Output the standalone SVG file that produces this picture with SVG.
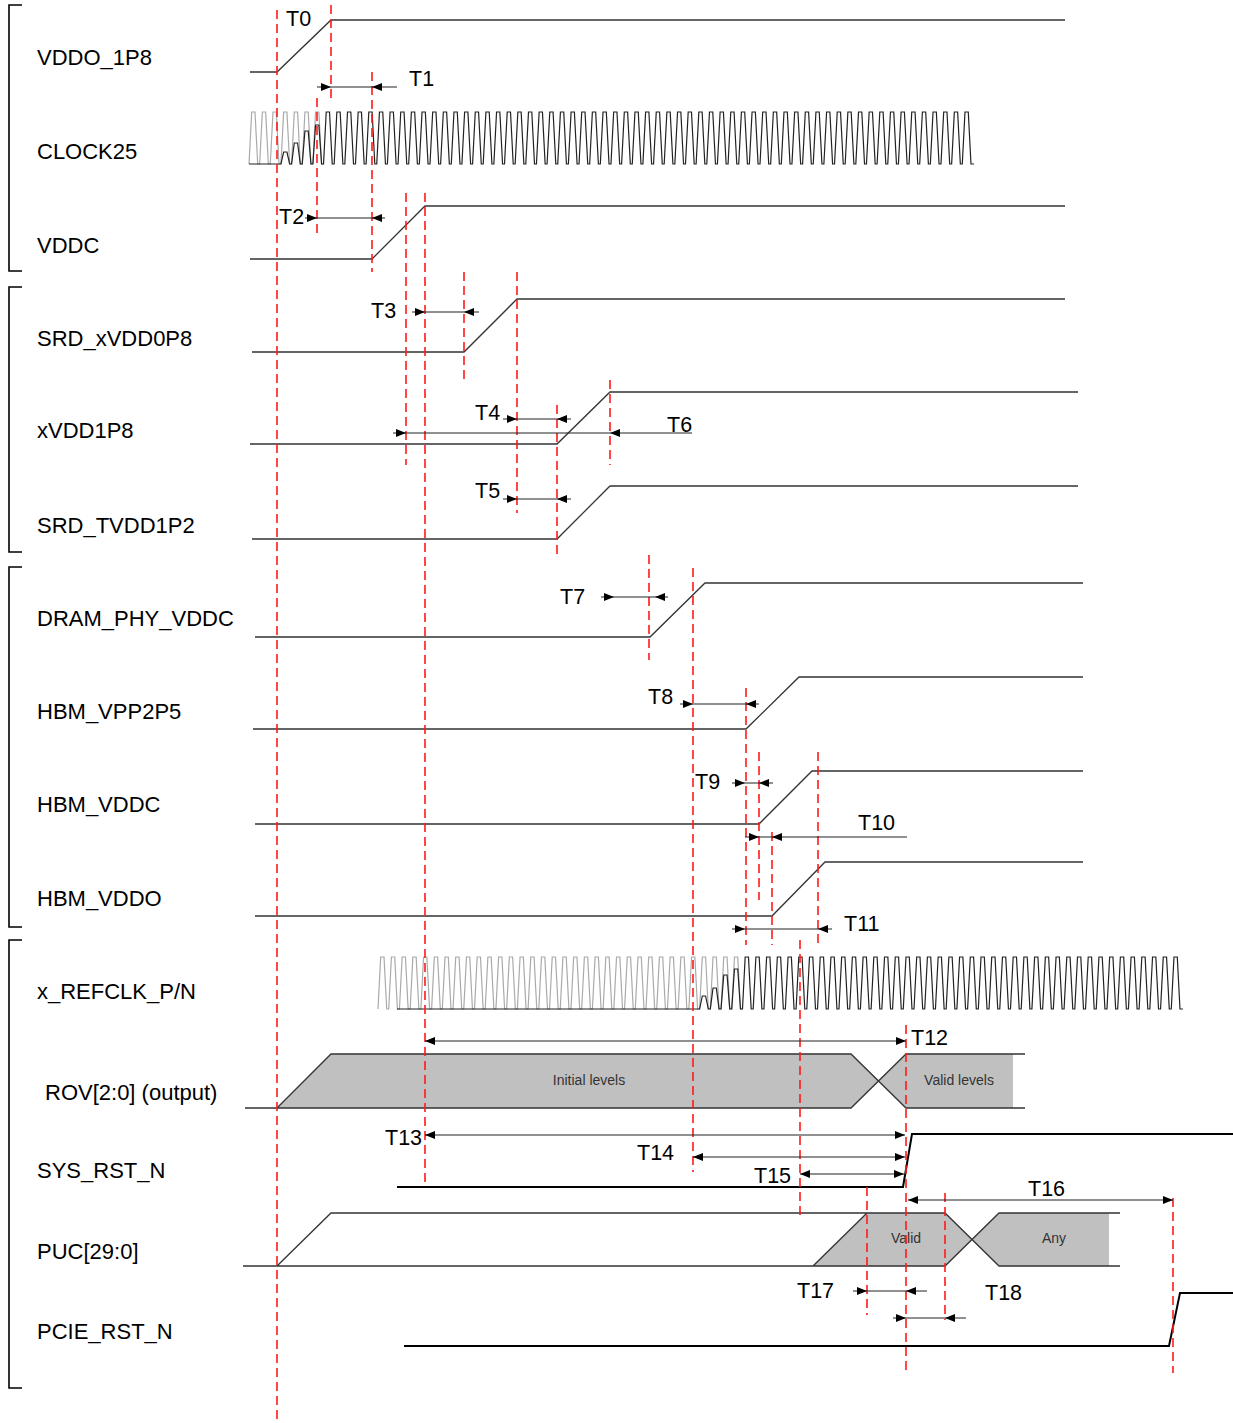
<svg xmlns="http://www.w3.org/2000/svg" xmlns:xlink="http://www.w3.org/1999/xlink" width="1233" height="1423" viewBox="0 0 1233 1423">
<style>
.lbl{font-family:"Liberation Sans",Arial,sans-serif;font-size:22px;fill:#000}
.tl{font-family:"Liberation Sans",Arial,sans-serif;font-size:21.5px;fill:#000}
.st{font-family:"Liberation Sans",Arial,sans-serif;font-size:14px;fill:#333;text-anchor:middle}
.sig{fill:none;stroke:#333;stroke-width:1.3}
.thick{fill:none;stroke:#000;stroke-width:2}
.clk{fill:none;stroke:#222;stroke-width:1.2}
.ghost{fill:none;stroke:#aaa;stroke-width:1.2}
.br{fill:none;stroke:#000;stroke-width:1.6}
.dash{stroke:#ff1a1a;stroke-width:1.6;stroke-dasharray:9 5;fill:none}
.al{stroke:#222;stroke-width:1.1;fill:none}
.bus{fill:#c0c0c0;stroke:none}
</style>
<defs>
<path id="hr" d="M0,0 L-10,-4 L-10,4 Z" fill="#000"/>
<path id="hl" d="M0,0 L10,-4 L10,4 Z" fill="#000"/>
</defs>
<rect width="1233" height="1423" fill="#fff"/>

<g id="brackets">
<path class="br" d="M22,5 H9 V271 H22"/>
<path class="br" d="M22,287 H9 V552 H22"/>
<path class="br" d="M22,567 H9 V927 H22"/>
<path class="br" d="M22,940 H9 V1388 H22"/>
</g>

<g id="labels">
<text class="lbl" x="37" y="65">VDDO_1P8</text>
<text class="lbl" x="37" y="159">CLOCK25</text>
<text class="lbl" x="37" y="253">VDDC</text>
<text class="lbl" x="37" y="346">SRD_xVDD0P8</text>
<text class="lbl" x="37" y="438">xVDD1P8</text>
<text class="lbl" x="37" y="533">SRD_TVDD1P2</text>
<text class="lbl" x="37" y="626">DRAM_PHY_VDDC</text>
<text class="lbl" x="37" y="719">HBM_VPP2P5</text>
<text class="lbl" x="37" y="812">HBM_VDDC</text>
<text class="lbl" x="37" y="906">HBM_VDDO</text>
<text class="lbl" x="37" y="999">x_REFCLK_P/N</text>
<text class="lbl" x="45" y="1100">ROV[2:0] (output)</text>
<text class="lbl" x="37" y="1178">SYS_RST_N</text>
<text class="lbl" x="37" y="1259">PUC[29:0]</text>
<text class="lbl" x="37" y="1339">PCIE_RST_N</text>
</g>

<g id="sig-vddo1p8"><path class="sig" d="M250,72 H277 L331,20 H1065"/></g>
<g id="sig-clock25">
<path class="ghost" d="M249,164 l2.7,-52 h3.3 l2.7,52 h1.946 l2.7,-52 h3.3 l2.7,52 h1.946 l2.7,-52 h3.3 l2.7,52 h1.946 l2.7,-52 h3.3 l2.7,52 h1.946 l2.7,-52 h3.3 l2.7,52 h1.946 l2.7,-52 h3.3 l2.7,52 h1.946 l2.7,-52 h3.3 l2.7,52 h1.946"/>
<path class="clk" d="M249,164 H280.94 l2.7,-12 h3.3 l2.7,12 h1.946 l2.7,-21 h3.3 l2.7,21 h1.946 l2.7,-33 h3.3 l2.7,33 h1.946 l2.7,-39 h3.3 l2.7,39 h1.946
l2.7,-52 h3.3 l2.7,52 h1.946 l2.7,-52 h3.3 l2.7,52 h1.946 l2.7,-52 h3.3 l2.7,52 h1.946 l2.7,-52 h3.3 l2.7,52 h1.946 l2.7,-52 h3.3 l2.7,52 h1.946
l2.7,-52 h3.3 l2.7,52 h1.946 l2.7,-52 h3.3 l2.7,52 h1.946 l2.7,-52 h3.3 l2.7,52 h1.946 l2.7,-52 h3.3 l2.7,52 h1.946 l2.7,-52 h3.3 l2.7,52 h1.946
l2.7,-52 h3.3 l2.7,52 h1.946 l2.7,-52 h3.3 l2.7,52 h1.946 l2.7,-52 h3.3 l2.7,52 h1.946 l2.7,-52 h3.3 l2.7,52 h1.946 l2.7,-52 h3.3 l2.7,52 h1.946
l2.7,-52 h3.3 l2.7,52 h1.946 l2.7,-52 h3.3 l2.7,52 h1.946 l2.7,-52 h3.3 l2.7,52 h1.946 l2.7,-52 h3.3 l2.7,52 h1.946 l2.7,-52 h3.3 l2.7,52 h1.946
l2.7,-52 h3.3 l2.7,52 h1.946 l2.7,-52 h3.3 l2.7,52 h1.946 l2.7,-52 h3.3 l2.7,52 h1.946 l2.7,-52 h3.3 l2.7,52 h1.946 l2.7,-52 h3.3 l2.7,52 h1.946
l2.7,-52 h3.3 l2.7,52 h1.946 l2.7,-52 h3.3 l2.7,52 h1.946 l2.7,-52 h3.3 l2.7,52 h1.946 l2.7,-52 h3.3 l2.7,52 h1.946 l2.7,-52 h3.3 l2.7,52 h1.946
l2.7,-52 h3.3 l2.7,52 h1.946 l2.7,-52 h3.3 l2.7,52 h1.946 l2.7,-52 h3.3 l2.7,52 h1.946 l2.7,-52 h3.3 l2.7,52 h1.946 l2.7,-52 h3.3 l2.7,52 h1.946
l2.7,-52 h3.3 l2.7,52 h1.946 l2.7,-52 h3.3 l2.7,52 h1.946 l2.7,-52 h3.3 l2.7,52 h1.946 l2.7,-52 h3.3 l2.7,52 h1.946 l2.7,-52 h3.3 l2.7,52 h1.946
l2.7,-52 h3.3 l2.7,52 h1.946 l2.7,-52 h3.3 l2.7,52 h1.946 l2.7,-52 h3.3 l2.7,52 h1.946 l2.7,-52 h3.3 l2.7,52 h1.946 l2.7,-52 h3.3 l2.7,52 h1.946
l2.7,-52 h3.3 l2.7,52 h1.946 l2.7,-52 h3.3 l2.7,52 h1.946 l2.7,-52 h3.3 l2.7,52 h1.946 l2.7,-52 h3.3 l2.7,52 h1.946 l2.7,-52 h3.3 l2.7,52 h1.946
l2.7,-52 h3.3 l2.7,52 h1.946 l2.7,-52 h3.3 l2.7,52 h1.946 l2.7,-52 h3.3 l2.7,52 h1.946 l2.7,-52 h3.3 l2.7,52 h1.946 l2.7,-52 h3.3 l2.7,52 h1.946
l2.7,-52 h3.3 l2.7,52 h1.946 l2.7,-52 h3.3 l2.7,52 h1.946 l2.7,-52 h3.3 l2.7,52 h1.946 l2.7,-52 h3.3 l2.7,52 h1.946 l2.7,-52 h3.3 l2.7,52 h1.946
l2.7,-52 h3.3 l2.7,52 h3"/>
</g>
<g id="sig-vddc"><path class="sig" d="M250,259 H372 L425,206 H1065"/></g>
<g id="sig-srd-xvdd0p8"><path class="sig" d="M252,352 H464 L517,299 H1065"/></g>
<g id="sig-xvdd1p8"><path class="sig" d="M250,444 H557 L610,392 H1078"/></g>
<g id="sig-srd-tvdd1p2"><path class="sig" d="M252,539 H557 L610,486 H1078"/></g>
<g id="sig-dram-phy-vddc"><path class="sig" d="M255,637 H650 L705,583 H1083"/></g>
<g id="sig-hbm-vpp2p5"><path class="sig" d="M253,729 H746 L799,677 H1083"/></g>
<g id="sig-hbm-vddc"><path class="sig" d="M255,824 H759 L812,771 H1083"/></g>
<g id="sig-hbm-vddo"><path class="sig" d="M255,916 H772 L825,862 H1083"/></g>
<g id="sig-refclk">
<path class="ghost" d="M378,1009 l2.7,-52 h3.3 l2.7,52 h2.02 l2.7,-52 h3.3 l2.7,52 h2.02 l2.7,-52 h3.3 l2.7,52 h2.02 l2.7,-52 h3.3 l2.7,52 h2.02 l2.7,-52 h3.3 l2.7,52 h2.02
l2.7,-52 h3.3 l2.7,52 h2.02 l2.7,-52 h3.3 l2.7,52 h2.02 l2.7,-52 h3.3 l2.7,52 h2.02 l2.7,-52 h3.3 l2.7,52 h2.02 l2.7,-52 h3.3 l2.7,52 h2.02
l2.7,-52 h3.3 l2.7,52 h2.02 l2.7,-52 h3.3 l2.7,52 h2.02 l2.7,-52 h3.3 l2.7,52 h2.02 l2.7,-52 h3.3 l2.7,52 h2.02 l2.7,-52 h3.3 l2.7,52 h2.02
l2.7,-52 h3.3 l2.7,52 h2.02 l2.7,-52 h3.3 l2.7,52 h2.02 l2.7,-52 h3.3 l2.7,52 h2.02 l2.7,-52 h3.3 l2.7,52 h2.02 l2.7,-52 h3.3 l2.7,52 h2.02
l2.7,-52 h3.3 l2.7,52 h2.02 l2.7,-52 h3.3 l2.7,52 h2.02 l2.7,-52 h3.3 l2.7,52 h2.02 l2.7,-52 h3.3 l2.7,52 h2.02 l2.7,-52 h3.3 l2.7,52 h2.02
l2.7,-52 h3.3 l2.7,52 h2.02 l2.7,-52 h3.3 l2.7,52 h2.02 l2.7,-52 h3.3 l2.7,52 h2.02 l2.7,-52 h3.3 l2.7,52 h2.02 l2.7,-52 h3.3 l2.7,52 h2.02
l2.7,-52 h3.3 l2.7,52 h2.02 l2.7,-52 h3.3 l2.7,52 h2.02 l2.7,-52 h3.3 l2.7,52 h2.02 l2.7,-52 h3.3 l2.7,52 h2.02"/>
<path class="clk" d="M397,1009 H699.6 l2.7,-13 h3.3 l2.7,13 h2.02 l2.7,-21 h3.3 l2.7,21 h2.02 l2.7,-34 h3.3 l2.7,34 h2.02 l2.7,-40 h3.3 l2.7,40 h2.02
l2.7,-52 h3.3 l2.7,52 h2.02 l2.7,-52 h3.3 l2.7,52 h2.02 l2.7,-52 h3.3 l2.7,52 h2.02 l2.7,-52 h3.3 l2.7,52 h2.02 l2.7,-52 h3.3 l2.7,52 h2.02
l2.7,-52 h3.3 l2.7,52 h2.02 l2.7,-52 h3.3 l2.7,52 h2.02 l2.7,-52 h3.3 l2.7,52 h2.02 l2.7,-52 h3.3 l2.7,52 h2.02 l2.7,-52 h3.3 l2.7,52 h2.02
l2.7,-52 h3.3 l2.7,52 h2.02 l2.7,-52 h3.3 l2.7,52 h2.02 l2.7,-52 h3.3 l2.7,52 h2.02 l2.7,-52 h3.3 l2.7,52 h2.02 l2.7,-52 h3.3 l2.7,52 h2.02
l2.7,-52 h3.3 l2.7,52 h2.02 l2.7,-52 h3.3 l2.7,52 h2.02 l2.7,-52 h3.3 l2.7,52 h2.02 l2.7,-52 h3.3 l2.7,52 h2.02 l2.7,-52 h3.3 l2.7,52 h2.02
l2.7,-52 h3.3 l2.7,52 h2.02 l2.7,-52 h3.3 l2.7,52 h2.02 l2.7,-52 h3.3 l2.7,52 h2.02 l2.7,-52 h3.3 l2.7,52 h2.02 l2.7,-52 h3.3 l2.7,52 h2.02
l2.7,-52 h3.3 l2.7,52 h2.02 l2.7,-52 h3.3 l2.7,52 h2.02 l2.7,-52 h3.3 l2.7,52 h2.02 l2.7,-52 h3.3 l2.7,52 h2.02 l2.7,-52 h3.3 l2.7,52 h2.02
l2.7,-52 h3.3 l2.7,52 h2.02 l2.7,-52 h3.3 l2.7,52 h2.02 l2.7,-52 h3.3 l2.7,52 h2.02 l2.7,-52 h3.3 l2.7,52 h2.02 l2.7,-52 h3.3 l2.7,52 h2.02
l2.7,-52 h3.3 l2.7,52 h2.02 l2.7,-52 h3.3 l2.7,52 h2.02 l2.7,-52 h3.3 l2.7,52 h2.02 l2.7,-52 h3.3 l2.7,52 h2.02 l2.7,-52 h3.3 l2.7,52 h2.02
l2.7,-52 h3.3 l2.7,52 h3"/>
</g>
<g id="sig-rov">
<polygon class="bus" points="277,1108 331,1054 851,1054 878.5,1081 851,1108"/>
<polygon class="bus" points="878.5,1081 906,1054 1013,1054 1013,1108 906,1108"/>
<path class="sig" d="M245,1108 H851 L906,1054 H1025 M277,1108 L331,1054 H851 L906,1108 H1025"/>
<text class="st" x="589" y="1085">Initial levels</text>
<text class="st" x="959" y="1085">Valid levels</text>
</g>
<g id="sig-sys-rst-n"><path class="thick" d="M397,1187 H903 L912,1134 H1233"/></g>
<g id="sig-puc">
<polygon class="bus" points="813,1266 867,1213 945,1213 972,1239.5 945,1266"/>
<polygon class="bus" points="972,1239.5 999,1213 1109,1213 1109,1266 999,1266"/>
<path class="sig" d="M243,1266 H945 L999,1213 H1120 M277,1266 L331,1213 H945 L999,1266 H1120 M813,1266 L867,1213"/>
<text class="st" x="906" y="1243">Valid</text>
<text class="st" x="1054" y="1243">Any</text>
</g>
<g id="sig-pcie-rst-n"><path class="thick" d="M404,1346 H1169 L1180,1293 H1233"/></g>

<g id="markers">
<line class="dash" x1="277" y1="10" x2="277" y2="1423"/>
<line class="dash" x1="331" y1="5" x2="331" y2="100"/>
<line class="dash" x1="317" y1="98" x2="317" y2="233"/>
<line class="dash" x1="372" y1="72" x2="372" y2="272"/>
<line class="dash" x1="406" y1="193" x2="406" y2="465"/>
<line class="dash" x1="425" y1="193" x2="425" y2="1182"/>
<line class="dash" x1="464" y1="272" x2="464" y2="380"/>
<line class="dash" x1="517" y1="272" x2="517" y2="513"/>
<line class="dash" x1="557" y1="405" x2="557" y2="555"/>
<line class="dash" x1="610" y1="380" x2="610" y2="465"/>
<line class="dash" x1="649" y1="555" x2="649" y2="660"/>
<line class="dash" x1="693" y1="568" x2="693" y2="1172"/>
<line class="dash" x1="746" y1="688" x2="746" y2="945"/>
<line class="dash" x1="759" y1="752" x2="759" y2="900"/>
<line class="dash" x1="772" y1="832" x2="772" y2="945"/>
<line class="dash" x1="818" y1="752" x2="818" y2="945"/>
<line class="dash" x1="800" y1="940" x2="800" y2="1218"/>
<line class="dash" x1="867" y1="1187" x2="867" y2="1315"/>
<line class="dash" x1="906" y1="1025" x2="906" y2="1370"/>
<line class="dash" x1="945" y1="1193" x2="945" y2="1320"/>
<line class="dash" x1="1173" y1="1198" x2="1173" y2="1373"/>
</g>

<g id="connectors">
<line class="al" x1="317" y1="87" x2="397" y2="87"/><use href="#hr" x="331" y="87"/><use href="#hl" x="372" y="87"/>
<line class="al" x1="305" y1="218" x2="385" y2="218"/><use href="#hr" x="317" y="218"/><use href="#hl" x="372" y="218"/>
<line class="al" x1="412" y1="312" x2="479" y2="312"/><use href="#hr" x="425" y="312"/><use href="#hl" x="464" y="312"/>
<line class="al" x1="503" y1="419" x2="571" y2="419"/><use href="#hr" x="517" y="419"/><use href="#hl" x="557" y="419"/>
<line class="al" x1="393" y1="433" x2="692" y2="433"/><use href="#hr" x="406" y="433"/><use href="#hl" x="610" y="433"/>
<line class="al" x1="503" y1="499" x2="571" y2="499"/><use href="#hr" x="517" y="499"/><use href="#hl" x="557" y="499"/>
<line class="al" x1="601" y1="597" x2="668" y2="597"/><use href="#hr" x="614" y="597"/><use href="#hl" x="655" y="597"/>
<line class="al" x1="680" y1="704" x2="759" y2="704"/><use href="#hr" x="693" y="704"/><use href="#hl" x="746" y="704"/>
<line class="al" x1="732" y1="783" x2="773" y2="783"/><use href="#hr" x="745" y="783"/><use href="#hl" x="759" y="783"/>
<line class="al" x1="745" y1="837" x2="907" y2="837"/><use href="#hr" x="759" y="837"/><use href="#hl" x="772" y="837"/>
<line class="al" x1="732" y1="929" x2="832" y2="929"/><use href="#hr" x="745" y="929"/><use href="#hl" x="818" y="929"/>
<line class="al" x1="425" y1="1041" x2="906" y2="1041"/><use href="#hl" x="425" y="1041"/><use href="#hr" x="906" y="1041"/>
<line class="al" x1="425" y1="1135" x2="905" y2="1135"/><use href="#hl" x="425" y="1135"/><use href="#hr" x="905" y="1135"/>
<line class="al" x1="693" y1="1157" x2="905" y2="1157"/><use href="#hl" x="693" y="1157"/><use href="#hr" x="905" y="1157"/>
<line class="al" x1="800" y1="1174" x2="904" y2="1174"/><use href="#hl" x="800" y="1174"/><use href="#hr" x="904" y="1174"/>
<line class="al" x1="908" y1="1200" x2="1173" y2="1200"/><use href="#hl" x="908" y="1200"/><use href="#hr" x="1173" y="1200"/>
<line class="al" x1="853" y1="1291" x2="927" y2="1291"/><use href="#hr" x="867" y="1291"/><use href="#hl" x="906" y="1291"/>
<line class="al" x1="893" y1="1318" x2="966" y2="1318"/><use href="#hr" x="906" y="1318"/><use href="#hl" x="945" y="1318"/>
</g>

<g id="timing-labels">
<text class="tl" x="286" y="26">T0</text>
<text class="tl" x="409" y="86">T1</text>
<text class="tl" x="279" y="224">T2</text>
<text class="tl" x="371" y="318">T3</text>
<text class="tl" x="475" y="420">T4</text>
<text class="tl" x="475" y="498">T5</text>
<text class="tl" x="667" y="432">T6</text>
<text class="tl" x="560" y="604">T7</text>
<text class="tl" x="648" y="704">T8</text>
<text class="tl" x="695" y="789">T9</text>
<text class="tl" x="858" y="830">T10</text>
<text class="tl" x="844" y="931">T11</text>
<text class="tl" x="911" y="1045">T12</text>
<text class="tl" x="385" y="1145">T13</text>
<text class="tl" x="637" y="1160">T14</text>
<text class="tl" x="754" y="1183">T15</text>
<text class="tl" x="1028" y="1196">T16</text>
<text class="tl" x="797" y="1298">T17</text>
<text class="tl" x="985" y="1300">T18</text>
</g>
</svg>
